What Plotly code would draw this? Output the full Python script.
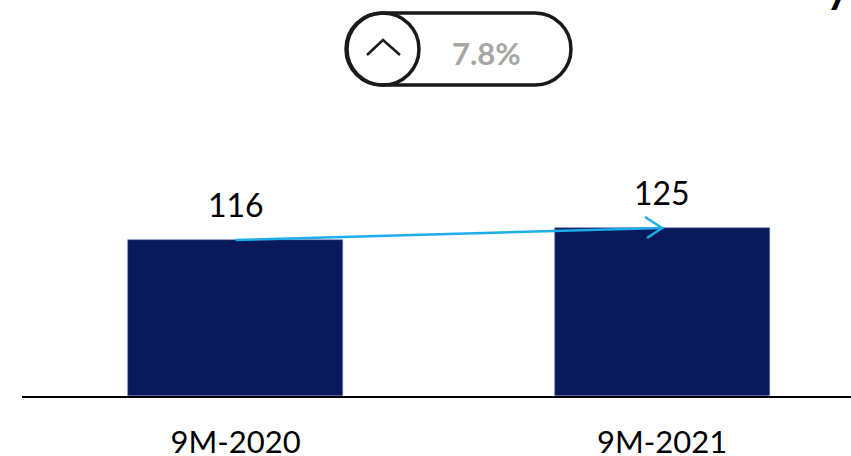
"""Two-bar comparison, 9M-2020 vs 9M-2021."""

import plotly.graph_objects as go

# data
periods = ["9M-2020", "9M-2021"]
values = [116, 125]
growth_label = "7.8%"

colors = {
    'bar': '#0a195c',
    'bar_edge': '#6a7ab0',
    'arrow': '#1aaeea',
    'text': '#000000',
    'muted': '#a6a6a6',
    'badge': '#1a1a1a',
}

xs = list(range(len(periods)))

fig = go.Figure()

# bars
fig.add_trace(go.Bar(
    x=xs,
    y=values,
    width=0.504,
    marker={'color': colors['bar'], 'line': {'color': colors['bar_edge'], 'width': 0.6}},
    hoverinfo='skip',
))

# value labels above bars
for x, v in zip(xs, values):
    fig.add_annotation(
        x=x, y=v, text=str(v), showarrow=False,
        yanchor='bottom', yshift=14,
        font={'size': 32, 'color': colors['text'], 'family': 'Lato'},
    )

# growth arrow between bar tops
fig.add_shape(
    type='line', xref='x', yref='y',
    x0=xs[0], y0=values[0], x1=xs[1], y1=values[1],
    line={'color': colors['arrow'], 'width': 2.5},
)
fig.add_shape(
    type='path', xref='x', yref='y',
    xsizemode='pixel', ysizemode='pixel',
    xanchor=xs[1], yanchor=values[1],
    path='M -17,11 L 0,0 L -15,-10',
    line={'color': colors['arrow'], 'width': 2.5},
)

# badge (pill + circle + chevron) in paper coords
bx = (458.5 - 22) / 829
by = (396 - 49) / 396
k = 0.5523 * 36
hw, hh = 112.5, 36
s = hw - hh
pill = (
    f"M {-s},{hh} L {s},{hh} "
    f"C {s + k},{hh} {hw},{k} {hw},0 "
    f"C {hw},{-k} {s + k},{-hh} {s},{-hh} "
    f"L {-s},{-hh} "
    f"C {-s - k},{-hh} {-hw},{-k} {-hw},0 "
    f"C {-hw},{k} {-s - k},{hh} {-s},{hh} Z"
)
fig.add_shape(
    type='path', xref='paper', yref='paper',
    xsizemode='pixel', ysizemode='pixel', xanchor=bx, yanchor=by,
    path=pill, line={'color': colors['badge'], 'width': 3.5},
)
cx = (383 - 22) / 829
fig.add_shape(
    type='circle', xref='paper', yref='paper',
    xsizemode='pixel', ysizemode='pixel', xanchor=cx, yanchor=by,
    x0=-36, x1=36, y0=-36, y1=36,
    line={'color': colors['badge'], 'width': 3.5},
)
fig.add_shape(
    type='path', xref='paper', yref='paper',
    xsizemode='pixel', ysizemode='pixel', xanchor=cx, yanchor=by,
    path='M -16,-6 L 0,9 L 17,-6',
    line={'color': colors['badge'], 'width': 2.5},
)
fig.add_annotation(
    xref='paper', yref='paper', x=(486 - 22) / 829, y=(396 - 53) / 396,
    xanchor='center', yanchor='middle',
    text='<b>' + growth_label + '</b>', showarrow=False,
    font={'size': 31, 'color': colors['muted'], 'family': 'Lato'},
)

# fragment of slide title cut off at the top
fig.add_annotation(
    xref='paper', yref='paper', x=(838 - 22) / 829, y=1.0,
    xanchor='center', yanchor='bottom', yshift=-14,
    text='<b>y</b>', showarrow=False,
    font={'size': 44, 'color': '#000000', 'family': 'Lato'},
)

fig.update_xaxes(
    range=[-0.5006, 1.443],
    tickvals=xs, ticktext=periods,
    tickfont={'size': 31, 'color': colors['text'], 'family': 'Lato'},
    showline=True, linecolor='#000000', linewidth=2,
    showgrid=False, zeroline=False, ticks='',
    ticklabelstandoff=18, automargin=False,
)
fig.update_yaxes(
    range=[0, 294.6], visible=False, showgrid=False, zeroline=False,
)

fig.update_layout(
    width=851, height=456,
    margin={'l': 22, 'r': 0, 't': 0, 'b': 60},
    plot_bgcolor='white', paper_bgcolor='white',
    showlegend=False,
    bargap=0,
)

fig.write_html(
    "out.html",
    config={'displayModeBar': False},
    post_script="document.body.style.margin='0';",
)
